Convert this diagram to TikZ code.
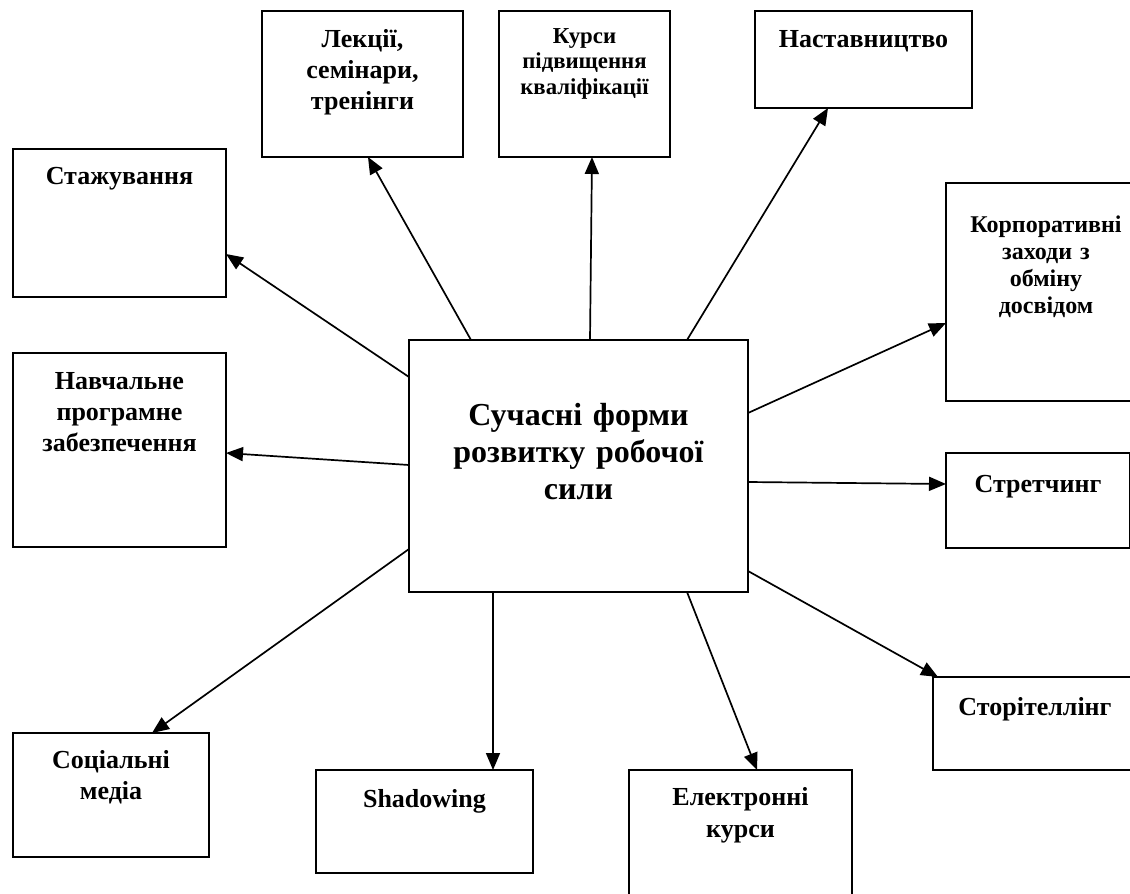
\documentclass[tikz,border=0pt]{standalone}
\usepackage{fontspec}
\setmainfont{Liberation Serif}
\usetikzlibrary{arrows.meta}

\begin{document}
\begin{tikzpicture}[x=1pt, y=-1pt,
    formbox/.style={draw, line width=2pt, anchor=north west, inner sep=0pt, outer sep=0pt, align=center},
    formtext/.style={font={\bfseries\fontsize{26}{31}\selectfont}},
    smalltext/.style={font={\bfseries\fontsize{22.8}{25.5}\selectfont}},
    link/.style={-{Triangle[length=17pt, width=14pt]}, line width=1.7pt}]

    \useasboundingbox (0,0) rectangle (1130,894);

    % --- 1. Central box ---
    \node[formbox, font={\bfseries\fontsize{32}{37}\selectfont},
      text width=339pt, text height=85pt, text depth=167pt] (main) at (409,340)
      {Сучасні форми\\розвитку робочої\\сили};

    % --- 2. Left column ---
    \node[formbox, formtext, text width=213pt, text height=35pt, text depth=113pt] (staz) at (13,149) {Стажування};
    \node[formbox, formtext, text width=213pt, text height=36pt, text depth=158pt] (nav) at (13,353) {Навчальне\\програмне\\забезпечення};
    \node[formbox, formtext, text width=196pt, text height=35pt, text depth=89pt] (soc) at (13,733) {Соціальні\\медіа};

    % --- 3. Top row ---
    \node[formbox, formtext, text width=201pt, text height=36pt, text depth=110pt] (lek) at (262,11) {Лекції,\\семінари,\\тренінги};
    \node[formbox, smalltext, text width=171pt, text height=32pt, text depth=114pt] (kursy) at (499,11) {Курси\\підвищення\\кваліфікації};
    \node[formbox, formtext, text width=217pt, text height=36pt, text depth=61pt] (nast) at (755,11) {Наставництво};

    % --- 4. Right column (cut by the page edge) ---
    \node[formbox, font={\bfseries\fontsize{24}{27}\selectfont}, text width=200pt, text height=49pt, text depth=169pt] (korp) at (946,183) {Корпоративні\\заходи з\\обміну\\досвідом};
    \node[formbox, formtext, text width=184pt, text height=39pt, text depth=56pt] (stretch) at (946,453) {Стретчинг};
    \node[formbox, formtext, text width=204pt, text height=38pt, text depth=55pt] (story) at (933,677) {Сторітеллінг};

    % --- 5. Bottom row ---
    \node[formbox, formtext, text width=217pt, text height=37pt, text depth=66pt] (shad) at (316,770) {Shadowing};
    \node[formbox, font={\bfseries\fontsize{26}{32}\selectfont}, text width=223pt, text height=35pt, text depth=140pt] (elek) at (629,770) {Електронні\\курси};

    % --- 6. Arrows out of the central box ---
    \draw[link] ([xshift=62pt]main.north west) -- ([xshift=106pt]lek.south west);
    \draw[link] ([xshift=181pt]main.north west) -- ([xshift=93pt]kursy.south west);
    \draw[link] ([xshift=278pt]main.north west) -- ([xshift=73pt]nast.south west);
    \draw[link] ([yshift=-37pt]main.north west) -- ([yshift=-105pt]staz.north east);
    \draw[link] ([yshift=-125pt]main.north west) -- ([yshift=-100pt]nav.north east);
    \draw[link] ([yshift=-209pt]main.north west) -- ([xshift=139pt]soc.north west);
    \draw[link] ([xshift=84pt]main.south west) -- ([xshift=177pt]shad.north west);
    \draw[link] ([xshift=278pt]main.south west) -- ([xshift=128pt]elek.north west);
    \draw[link] ([yshift=-231pt]main.north east) -- ([xshift=5pt]story.north west);
    \draw[link] ([yshift=-142pt]main.north east) -- ([yshift=-31pt]stretch.north west);
    \draw[link] ([yshift=-73pt]main.north east) -- ([yshift=-140pt]korp.north west);

\end{tikzpicture}
\end{document}
